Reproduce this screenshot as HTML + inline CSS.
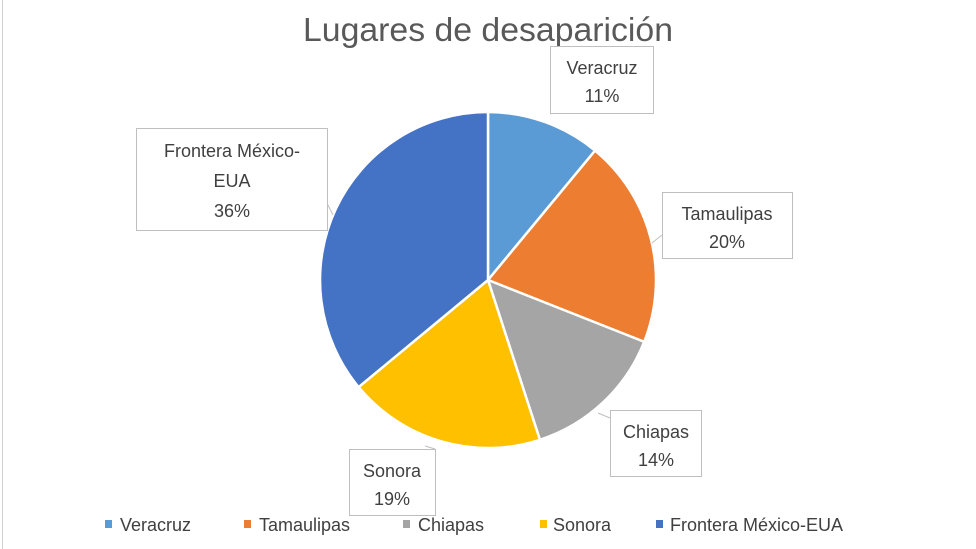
<!DOCTYPE html>
<html><head><meta charset="utf-8"><style>
body{margin:0;background:#fff;}
svg{display:block;font-family:"Liberation Sans",sans-serif;}
</style></head><body>
<svg width="976" height="549" viewBox="0 0 976 549">
<rect width="976" height="549" fill="#fff"/>
<line x1="2.5" y1="0" x2="2.5" y2="549" stroke="#d0d0d0"/>
<text x="488" y="41" text-anchor="middle" font-size="33" fill="#595959" textLength="370" lengthAdjust="spacingAndGlyphs">Lugares de desaparición</text>
<g stroke="#fff" stroke-width="2.5">
<path d="M488,280 L488,112 A168,168 0 0 1 595.1,150.6 Z" fill="#5B9BD5"/>
<path d="M488,280 L595.1,150.6 A168,168 0 0 1 644.2,341.8 Z" fill="#ED7D31"/>
<path d="M488,280 L644.2,341.8 A168,168 0 0 1 539.9,439.8 Z" fill="#A5A5A5"/>
<path d="M488,280 L539.9,439.8 A168,168 0 0 1 358.6,387.1 Z" fill="#FFC000"/>
<path d="M488,280 L358.6,387.1 A168,168 0 0 1 488,112 Z" fill="#4472C4"/>
</g>
<g stroke="#bfbfbf" fill="none">
<path d="M550,114 L570,108"/>
<path d="M662,235 L652,243"/>
<path d="M610,418 L598,413"/>
<path d="M435,449 L425,446"/>
<path d="M328,205 L333,215"/>
</g>
<g fill="#fff" stroke="#bfbfbf" stroke-width="1">
<rect x="550.5" y="46.5" width="103" height="67"/>
<rect x="662.5" y="192.5" width="130" height="66"/>
<rect x="610.5" y="410.5" width="91" height="66"/>
<rect x="349.5" y="449.5" width="86" height="66"/>
<rect x="136.5" y="128.5" width="191" height="102"/>
</g>
<g font-size="18" fill="#404040" text-anchor="middle">
<text x="602" y="74">Veracruz</text><text x="602" y="102">11%</text>
<text x="727" y="220">Tamaulipas</text><text x="727" y="248">20%</text>
<text x="656" y="438">Chiapas</text><text x="656" y="466">14%</text>
<text x="392" y="477">Sonora</text><text x="392" y="505">19%</text>
<text x="232" y="157">Frontera México-</text><text x="232" y="187">EUA</text><text x="232" y="217">36%</text>
</g>
<g font-size="18" fill="#404040">
<rect x="105" y="520" width="7" height="8" fill="#5B9BD5"/><text x="120" y="531">Veracruz</text>
<rect x="244" y="520" width="7" height="8" fill="#ED7D31"/><text x="259" y="531">Tamaulipas</text>
<rect x="403" y="520" width="7" height="8" fill="#A5A5A5"/><text x="418" y="531">Chiapas</text>
<rect x="540" y="520" width="7" height="8" fill="#FFC000"/><text x="553" y="531">Sonora</text>
<rect x="656" y="520" width="7" height="8" fill="#4472C4"/><text x="670" y="531">Frontera México-EUA</text>
</g>
</svg>
</body></html>
